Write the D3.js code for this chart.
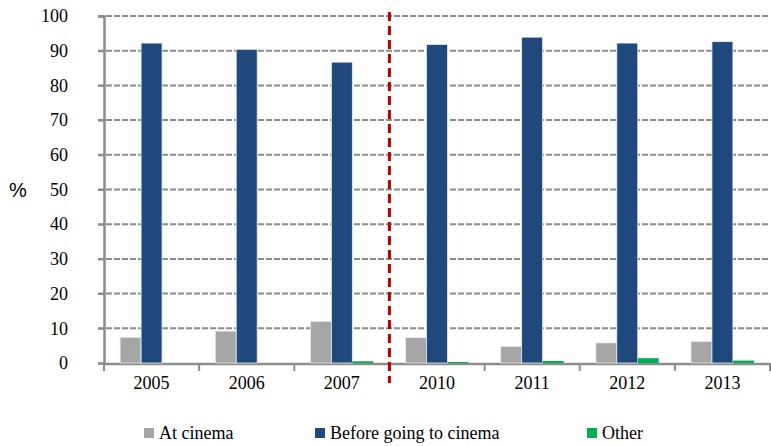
<!DOCTYPE html>
<html>
<head>
<meta charset="utf-8">
<script src="https://cdn.jsdelivr.net/npm/d3@7"></script>
<style>
  html, body { margin: 0; padding: 0; background: #fff; }
  svg { display: block; }
</style>
</head>
<body>
<svg id="chart" width="771" height="446"></svg>
<script>
// Where people find film information (%), by survey year
const years = ["2005", "2006", "2007", "2010", "2011", "2012", "2013"];
const atCinema = [7.4, 9.2, 12.0, 7.3, 4.8, 5.8, 6.2];
const beforeCinema = [92.2, 90.4, 86.7, 91.8, 93.9, 92.2, 92.6];
const other = [0, 0, 0.5, 0.3, 0.6, 1.4, 0.7];
const seriesNames = ["At cinema", "Before going to cinema", "Other"];
const seriesColors = ["#A6A6A6", "#1F497D", "#00B050"];
const yTicks = [0, 10, 20, 30, 40, 50, 60, 70, 80, 90, 100];

const seriesValues = [atCinema, beforeCinema, other];

const svg = d3.select("#chart");
const margin = { left: 104, right: 1, top: 16, bottom: 83 };
const W = 771, H = 446;
const x0 = margin.left, x1 = W - margin.right;
const yTop = margin.top, yBot = H - margin.bottom;

const x = d3.scaleBand().domain(years).range([x0, x1]).paddingInner(0).paddingOuter(0);
const xs = d3.scaleBand().domain(d3.range(3)).range([0, x.bandwidth()]).paddingOuter(0.77).paddingInner(0);
const y = d3.scaleLinear().domain([0, 100]).range([yBot, yTop]);

const serif = "'Liberation Serif', 'Times New Roman', serif";

// dashed horizontal gridlines
svg.append("g")
  .selectAll("line")
  .data(yTicks.filter(d => d > 0))
  .join("line")
  .attr("x1", x0 - 6).attr("x2", x1)
  .attr("y1", d => y(d)).attr("y2", d => y(d))
  .attr("stroke", "#8C8C8C").attr("stroke-width", 2)
  .attr("stroke-dasharray", "6,2");

// y axis
const yAxis = d3.axisLeft(y).tickValues(yTicks).tickSize(6).tickPadding(30).tickFormat(d3.format("d"));
const gy = svg.append("g").attr("transform", `translate(${x0},0)`).call(yAxis);
gy.attr("font-family", serif).attr("font-size", 18);
gy.select(".domain").attr("stroke", "#8C8C8C").attr("stroke-width", 2.5);
gy.selectAll(".tick line").attr("stroke", "#8C8C8C").attr("stroke-width", 2);
gy.selectAll(".tick text").attr("fill", "#000");

// x axis
const xAxis = d3.axisBottom(x).tickSize(0).tickPadding(12);
const gx = svg.append("g").attr("transform", `translate(0,${yBot + 1})`).call(xAxis);
gx.attr("font-family", serif).attr("font-size", 18);
gx.select(".domain").attr("stroke", "#8C8C8C").attr("stroke-width", 2.5).attr("d", `M${x0},0H${x1}`);
gx.selectAll(".tick text").attr("fill", "#000").attr("dy", "0.71em");

// category boundary ticks
svg.append("g")
  .selectAll("line")
  .data(years.concat(["__end"]))
  .join("line")
  .attr("x1", (d, i) => x0 + i * x.bandwidth())
  .attr("x2", (d, i) => x0 + i * x.bandwidth())
  .attr("y1", yBot).attr("y2", yBot + 8)
  .attr("stroke", "#8C8C8C").attr("stroke-width", 2);

// bars, drawn over the axis line
const groups = svg.append("g")
  .selectAll("g")
  .data(years)
  .join("g")
  .attr("transform", d => `translate(${x(d)},0)`);

groups.selectAll("rect")
  .data((d, i) => seriesValues.map((s, k) => ({ k, v: s[i] })))
  .join("rect")
  .attr("x", d => xs(d.k))
  .attr("width", xs.bandwidth())
  .attr("y", d => y(d.v))
  .attr("height", d => y(0) - y(d.v))
  .attr("fill", d => seriesColors[d.k])
  .attr("stroke", d => (d.v > 3 ? "#E6ECF3" : "none"))
  .attr("stroke-width", 0.8);

// break between 2007 and 2010
const breakX = x("2010");
svg.append("line")
  .attr("x1", breakX).attr("x2", breakX)
  .attr("y1", yTop - 4).attr("y2", yBot + 20)
  .attr("stroke", "#C00000").attr("stroke-width", 3)
  .attr("stroke-dasharray", "9,5");

// y label
svg.append("text")
  .attr("x", 18).attr("y", 197)
  .attr("text-anchor", "middle")
  .attr("font-family", "'Liberation Sans', Arial, sans-serif")
  .attr("font-size", 20)
  .text("%");

// legend
const legendX = [144, 315, 587];
const lg = svg.append("g").selectAll("g")
  .data(seriesNames)
  .join("g")
  .attr("transform", (d, i) => `translate(${legendX[i]},${428})`);
lg.append("rect").attr("width", 10).attr("height", 10).attr("fill", (d, i) => seriesColors[i]);
lg.append("text")
  .attr("x", 15).attr("y", 5).attr("dy", "0.36em")
  .attr("font-family", serif).attr("font-size", 18)
  .text(d => d);
</script>
</body>
</html>
